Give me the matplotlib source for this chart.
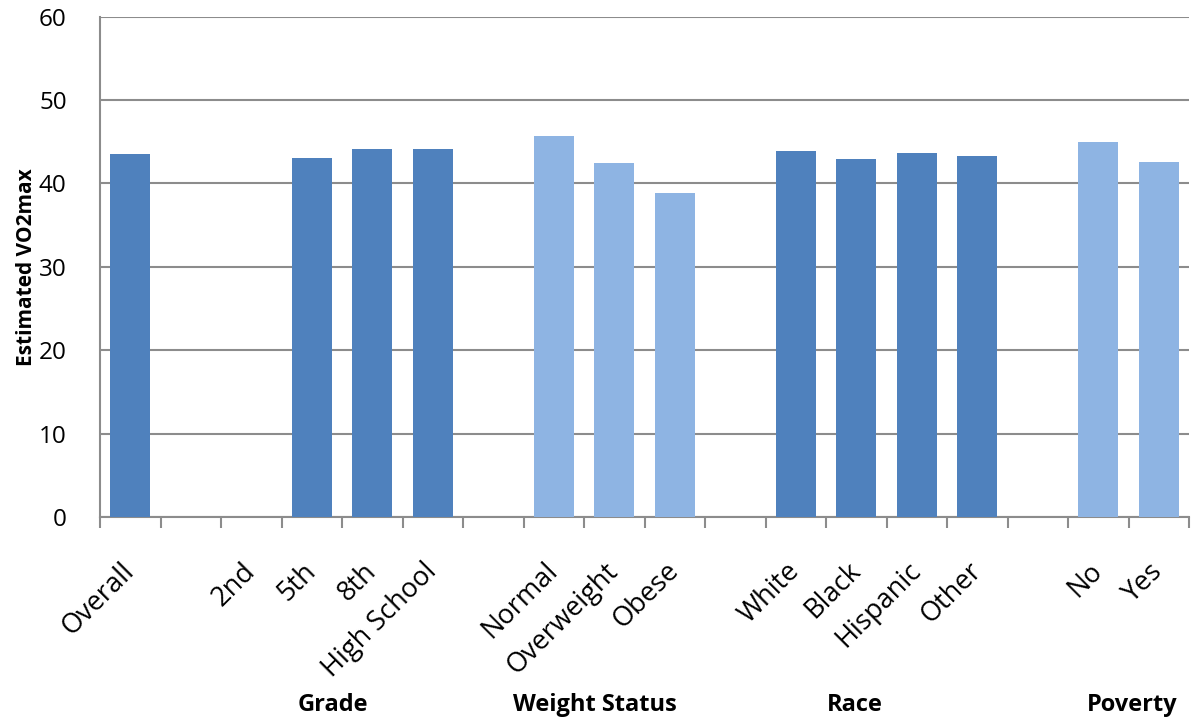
import numpy as np
import matplotlib
matplotlib.use("Agg")
import matplotlib.pyplot as plt

# categories (blank strings are spacer slots between groups)
categories = ["Overall", "", "2nd", "5th", "8th", "High School", "",
              "Normal", "Overweight", "Obese", "",
              "White", "Black", "Hispanic", "Other", "",
              "No", "Yes"]
vo2max = [43.5, np.nan, np.nan, 43.0, 44.1, 44.1, np.nan,
          45.7, 42.5, 38.9, np.nan,
          43.9, 42.9, 43.7, 43.3, np.nan,
          45.0, 42.6]
shade = ["dark", "", "dark", "dark", "dark", "dark", "",
         "light", "light", "light", "",
         "dark", "dark", "dark", "dark", "",
         "light", "light"]
group_names = ["Grade", "Weight Status", "Race", "Poverty"]
group_x_px = [333, 595, 855, 1132]

colors = {"dark": "#4F81BD", "light": "#8EB4E3", "": "#4F81BD"}
grid_color = "#8C8C8C"

plt.rcParams["font.family"] = ["Open Sans", "DejaVu Sans"]

W, H = 1193, 725
fig = plt.figure(figsize=(W / 100, H / 100), dpi=100)
ax = fig.add_axes([100 / W, (H - 517) / H, (1189 - 100) / W, (517 - 16.7) / H])

x = np.arange(len(categories))
ax.bar(x, vo2max, width=0.667, color=[colors[s] for s in shade], zorder=3)

ax.set_xlim(-0.5, len(categories) - 0.5)
ax.set_ylim(0, 60)
ax.set_yticks(range(0, 61, 10))
ax.yaxis.grid(True, color=grid_color, linewidth=1.5, zorder=0)
ax.tick_params(axis="y", length=0, pad=24, labelsize=17.5)

ax.set_xticks(x)
ax.set_xticklabels(categories, rotation=45, ha="right", va="center",
                   rotation_mode="anchor", fontsize=19.5)
ax.tick_params(axis="x", which="major", length=0, pad=36)
ax.set_xticks(np.arange(-0.5, len(categories), 1), minor=True)
ax.tick_params(axis="x", which="minor", length=8, width=1.5, color=grid_color)

for side in ["top", "right"]:
    ax.spines[side].set_visible(False)
for side in ["left", "bottom"]:
    ax.spines[side].set_color(grid_color)
    ax.spines[side].set_linewidth(1.5)

ax.set_ylabel("Estimated VO2max", fontsize=15, fontweight="bold", labelpad=1)

for name, px in zip(group_names, group_x_px):
    fig.text(px / W, (H - 705) / H, name, ha="center", va="center",
             fontsize=17, fontweight="bold")

fig.savefig("out.png", dpi=100)
